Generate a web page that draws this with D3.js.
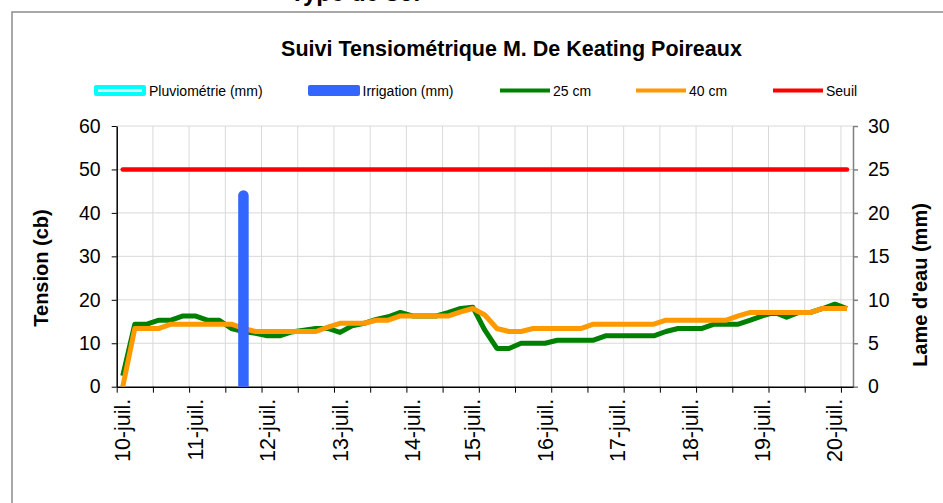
<!DOCTYPE html>
<html>
<head>
<meta charset="utf-8">
<script src="https://cdn.jsdelivr.net/npm/d3@7"></script>
<style>
  body { margin: 0; background: #fff; }
  svg { display: block; font-family: "Liberation Sans", Arial, sans-serif; }
</style>
</head>
<body>
<div id="chart"></div>
<script>
// readings (one per category)
const tension25 = [2.5, 14.4, 14.4, 15.3, 15.3, 16.3, 16.3, 15.3, 15.3, 13.4,
                   12.7, 12.3, 11.7, 11.7, 12.6, 13.0, 13.4, 13.4, 12.5, 14.0,
                   14.6, 15.5, 16.1, 17.1, 16.3, 16.3, 16.3, 17.1, 18.0, 18.3,
                   13.0, 8.8, 8.8, 10.0, 10.0, 10.0, 10.7, 10.7, 10.7, 10.7,
                   11.7, 11.7, 11.7, 11.7, 11.7, 12.7, 13.4, 13.4, 13.4, 14.4,
                   14.4, 14.4, 15.3, 16.3, 17.1, 16.0, 17.1, 17.1, 18.0, 19.0,
                   18.0];
const tension40 = [0, 13.4, 13.4, 13.4, 14.4, 14.4, 14.4, 14.4, 14.4, 14.4,
                   13.4, 12.7, 12.7, 12.7, 12.7, 12.7, 12.7, 13.7, 14.6, 14.6,
                   14.6, 15.3, 15.3, 16.3, 16.3, 16.3, 16.3, 16.3, 17.2, 18.0,
                   16.5, 13.4, 12.7, 12.7, 13.4, 13.4, 13.4, 13.4, 13.4, 14.4,
                   14.4, 14.4, 14.4, 14.4, 14.4, 15.3, 15.3, 15.3, 15.3, 15.3,
                   15.3, 16.3, 17.1, 17.1, 17.1, 17.1, 17.1, 17.1, 18.0, 18.0,
                   18.0];
const seuil = 50;
const irrigation = [{ cat: 10, mm: 22 }];
const pluviometrie = [];

const dateLabels = ["10-juil.", "11-juil.", "12-juil.", "13-juil.", "14-juil.", "15-juil.",
                    "16-juil.", "17-juil.", "18-juil.", "19-juil.", "20-juil."];
const labelCats = [0, 6, 12, 18, 24, 29, 35, 41, 47, 53, 59];
const leftTicks = [0, 10, 20, 30, 40, 50, 60];
const rightTicks = [0, 5, 10, 15, 20, 25, 30];

const W = 943, H = 503;
const plot = { left: 116.7, right: 853, top: 126, bottom: 386.7 };
const nCat = tension25.length;

const svg = d3.select("#chart").append("svg")
    .attr("width", W)
    .attr("height", H);

// cut-off heading above the chart
svg.append("text")
    .attr("x", 290).attr("y", 1)
    .style("font-size", "24px").style("font-weight", "bold")
    .text("Type de sol");

// chart frame
svg.append("rect")
    .attr("x", 12).attr("y", 12)
    .attr("width", W + 20).attr("height", H + 20)
    .attr("fill", "none")
    .attr("stroke", "#8c8c8c")
    .attr("stroke-width", 1.5);

// scales
const x = d3.scaleLinear().domain([0, nCat]).range([plot.left, plot.right]);
const cx = function(i) { return x(i + 0.5); };
const yL = d3.scaleLinear().domain([0, 60]).range([plot.bottom, plot.top]);
const yR = d3.scaleLinear().domain([0, 30]).range([plot.bottom, plot.top]);
const catTicks = d3.range(0, nCat, 3);

// gridlines
svg.append("g")
    .selectAll("line.h")
    .data(leftTicks.slice(1))
    .enter().append("line")
    .attr("x1", plot.left).attr("x2", plot.right)
    .attr("y1", function(d) { return yL(d); })
    .attr("y2", function(d) { return yL(d); })
    .attr("stroke", "#d9d9d9");

svg.append("g")
    .selectAll("line.v")
    .data(catTicks.slice(1))
    .enter().append("line")
    .attr("x1", function(d) { return x(d); })
    .attr("x2", function(d) { return x(d); })
    .attr("y1", plot.top).attr("y2", plot.bottom)
    .attr("stroke", "#d9d9d9");

// axes
const axLeft = svg.append("g")
    .attr("transform", `translate(${plot.left},0)`)
    .call(d3.axisLeft(yL).tickValues(leftTicks).tickSize(5).tickSizeOuter(0).tickPadding(11));
axLeft.selectAll("path, line").attr("stroke", "#000");

const axRight = svg.append("g")
    .attr("transform", `translate(${plot.right},0)`)
    .call(d3.axisRight(yR).tickValues(rightTicks).tickSize(5).tickSizeOuter(0).tickPadding(10));
axRight.selectAll("path, line").attr("stroke", "#808080").attr("stroke-width", 1.5);

const axBottom = svg.append("g")
    .attr("transform", `translate(0,${plot.bottom})`)
    .call(d3.axisBottom(x).tickValues(catTicks).tickSize(6).tickSizeOuter(0).tickFormat(""));
axBottom.selectAll("path, line").attr("stroke", "#000");
axBottom.select("path").attr("stroke-width", 1.5);
axLeft.select("path").attr("stroke-width", 1.5);

svg.selectAll(".tick text")
    .attr("fill", "#000")
    .style("font-size", "19.5px")
    .style("font-family", "'Liberation Sans', Arial, sans-serif");

// date labels, rotated
svg.append("g")
    .selectAll("text")
    .data(labelCats)
    .enter().append("text")
    .attr("transform", function(d) { return `translate(${cx(d)},${plot.bottom + 12}) rotate(-90)`; })
    .attr("dy", "0.35em")
    .attr("text-anchor", "end")
    .style("font-size", "21.5px")
    .text(function(d, i) { return dateLabels[i]; });

// clip to plot area
svg.append("clipPath").attr("id", "plotClip")
    .append("rect")
    .attr("x", plot.left).attr("y", plot.top - 10)
    .attr("width", plot.right - plot.left).attr("height", plot.bottom - plot.top + 10);

const marks = svg.append("g").attr("clip-path", "url(#plotClip)");

// threshold
marks.append("line")
    .attr("x1", cx(0)).attr("x2", cx(nCat - 1))
    .attr("y1", yL(seuil)).attr("y2", yL(seuil))
    .attr("stroke", "#ff0000")
    .attr("stroke-width", 4.5)
    .attr("stroke-linecap", "round");

const line = d3.line()
    .x(function(d, i) { return cx(i); })
    .y(function(d) { return yL(d); });

marks.append("path")
    .datum(tension25)
    .attr("d", line)
    .attr("fill", "none")
    .attr("stroke", "#008000")
    .attr("stroke-width", 5)
    .attr("stroke-linejoin", "round");

marks.append("path")
    .datum(tension40)
    .attr("d", line)
    .attr("fill", "none")
    .attr("stroke", "#ff9900")
    .attr("stroke-width", 5)
    .attr("stroke-linejoin", "round");

// irrigation bars
marks.selectAll("line.irr")
    .data(irrigation)
    .enter().append("line")
    .attr("x1", function(d) { return cx(d.cat); })
    .attr("x2", function(d) { return cx(d.cat); })
    .attr("y1", yR(0) + 8)
    .attr("y2", function(d) { return yR(d.mm); })
    .attr("stroke", "#3366ff")
    .attr("stroke-width", 10.5)
    .attr("stroke-linecap", "round");

// title
svg.append("text")
    .attr("x", 511.5).attr("y", 56)
    .attr("text-anchor", "middle")
    .style("font-size", "21.5px").style("font-weight", "bold")
    .text("Suivi Tensiométrique M. De Keating Poireaux");

// axis titles
svg.append("text")
    .attr("transform", "translate(41,268) rotate(-90)")
    .attr("dy", "0.35em")
    .attr("text-anchor", "middle")
    .style("font-size", "20px").style("font-weight", "bold")
    .text("Tension (cb)");

svg.append("text")
    .attr("transform", "translate(920,285) rotate(-90)")
    .attr("dy", "0.35em")
    .attr("text-anchor", "middle")
    .style("font-size", "20px").style("font-weight", "bold")
    .text("Lame d'eau (mm)");

// legend
const legend = svg.append("g").style("font-size", "14px");
const ly = 90.5;

legend.append("rect")
    .attr("x", 94).attr("y", ly - 5.5).attr("width", 52).attr("height", 11).attr("rx", 2)
    .attr("fill", "#00ffff");
legend.append("line")
    .attr("x1", 98).attr("x2", 142).attr("y1", ly).attr("y2", ly)
    .attr("stroke", "#ccffff").attr("stroke-width", 3);
legend.append("text").attr("x", 149).attr("y", ly + 5).text("Pluviométrie (mm)");

legend.append("rect")
    .attr("x", 308).attr("y", ly - 5.5).attr("width", 52).attr("height", 11).attr("rx", 2)
    .attr("fill", "#3366ff");
legend.append("text").attr("x", 362.5).attr("y", ly + 5).text("Irrigation (mm)");

const lineKeys = [
    { x: 500, label: "25 cm", color: "#008000" },
    { x: 636, label: "40 cm", color: "#ff9900" },
    { x: 773, label: "Seuil", color: "#ff0000" }
];
lineKeys.forEach(function(k) {
    legend.append("line")
        .attr("x1", k.x).attr("x2", k.x + 50).attr("y1", ly).attr("y2", ly)
        .attr("stroke", k.color).attr("stroke-width", 4);
    legend.append("text").attr("x", k.x + 53).attr("y", ly + 5).text(k.label);
});
</script>
</body>
</html>
